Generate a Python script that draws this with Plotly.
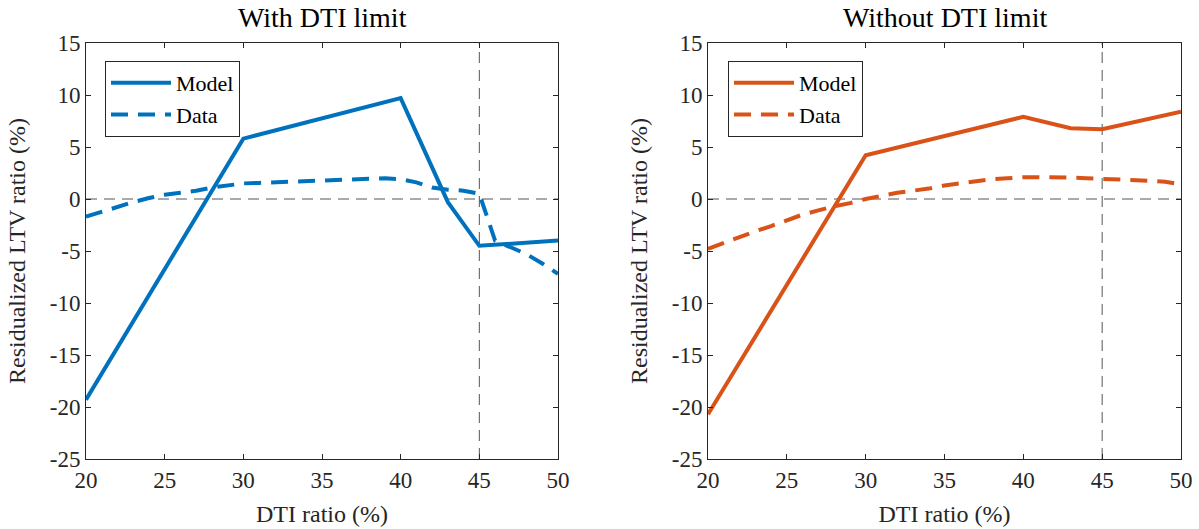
import plotly.graph_objects as go

# ---- data ----
model_x = [20, 30, 40, 43, 45, 50]
model_with = [-19.3, 5.8, 9.7, -0.3, -4.5, -4.0]
model_without = [-20.7, 4.2, 7.9, 6.8, 6.7, 8.4]

data_x = list(range(20, 51))
data_with = [-1.7, -1.2, -0.8, -0.3, 0.1, 0.4, 0.6, 0.8, 1.1, 1.3, 1.5,
             1.55, 1.6, 1.7, 1.75, 1.8, 1.85, 1.9, 1.95, 2.0, 1.9,
             1.6, 1.1, 0.9, 0.8, 0.5, -4.0, -4.6, -5.3, -6.2, -7.2]
data_without = [-4.8, -4.2, -3.6, -3.1, -2.6, -2.0, -1.5, -1.1, -0.7, -0.4, 0.0,
                0.3, 0.6, 0.8, 1.0, 1.3, 1.5, 1.7, 1.9, 2.0, 2.1,
                2.1, 2.1, 2.05, 2.0, 1.95, 1.9, 1.85, 1.75, 1.65, 1.4]

titles = ["With DTI limit", "Without DTI limit"]
colors = ["#0072BD", "#D95319"]
x_ticks = [20, 25, 30, 35, 40, 45, 50]
y_ticks = [-25, -20, -15, -10, -5, 0, 5, 10, 15]
y_ticktext = [str(v) for v in y_ticks]
limit_x = 45

FONT = "Liberation Serif"
TXT = "#262626"
W, H = 1199, 529
ML, MR, MT, MB = 86, 18, 43, 70
PW = W - ML - MR
PH = H - MT - MB
domains_x = [[0, (558 - ML) / PW], [(708 - ML) / PW, 1]]

fig = go.Figure()
series = [(model_with, data_with), (model_without, data_without)]
for i, (m, d) in enumerate(series):
    xa = "x" if i == 0 else "x2"
    ya = "y" if i == 0 else "y2"
    leg = "legend" if i == 0 else "legend2"
    fig.add_trace(go.Scatter(x=model_x, y=m, mode="lines", name="Model",
                             line=dict(color=colors[i], width=4),
                             xaxis=xa, yaxis=ya, legend=leg))
    fig.add_trace(go.Scatter(x=data_x, y=d, mode="lines", name="Data",
                             line=dict(color=colors[i], width=4, dash="17px,10px"),
                             xaxis=xa, yaxis=ya, legend=leg))
    # reference lines
    fig.add_shape(type="line", xref=xa, yref=ya, x0=20, x1=50, y0=0, y1=0,
                  line=dict(color="#555555", width=1, dash="11px,7px"), layer="below")
    fig.add_shape(type="line", xref=xa, yref=ya, x0=limit_x, x1=limit_x, y0=-25, y1=15,
                  line=dict(color="#555555", width=1, dash="11px,7px"), layer="below")

axis_common = dict(showgrid=False, zeroline=False, showline=True, mirror="ticks",
                   linecolor=TXT, linewidth=1, ticks="inside", ticklen=5,
                   tickcolor=TXT, automargin=False,
                   tickfont=dict(family=FONT, size=23, color=TXT))

for i in range(2):
    sfx = "" if i == 0 else "2"
    fig.update_layout(**{
        f"xaxis{sfx}": dict(domain=domains_x[i], range=[20, 50], tickvals=x_ticks,
                            anchor=f"y{sfx}",
                            title=dict(text="DTI ratio (%)",
                                       font=dict(family=FONT, size=24, color=TXT),
                                       standoff=13),
                            **axis_common),
        f"yaxis{sfx}": dict(domain=[0, 1], range=[-25, 15], tickvals=y_ticks,
                            ticktext=y_ticktext, anchor=f"x{sfx}",
                            title=dict(text="Residualized LTV ratio (%)",
                                       font=dict(family=FONT, size=24, color=TXT),
                                       standoff=17),
                            **axis_common),
    })
    fig.add_annotation(text=titles[i], xref="paper", yref="paper",
                       x=sum(domains_x[i]) / 2, y=1 + (MT - 17) / PH,
                       showarrow=False, xanchor="center", yanchor="middle",
                       font=dict(family=FONT, size=28, color="black"))

legend_common = dict(bgcolor="white", bordercolor=TXT, borderwidth=1,
                     font=dict(family=FONT, size=22, color="black"),
                     xanchor="left", yanchor="top", tracegroupgap=0, itemwidth=60)
fig.update_layout(
    legend=dict(x=(105 - ML) / PW, y=1 - (61 - MT) / PH, **legend_common),
    legend2=dict(x=(728 - ML) / PW, y=1 - (61 - MT) / PH, **legend_common),
    width=W, height=H, margin=dict(l=ML, r=MR, t=MT, b=MB, autoexpand=False),
    paper_bgcolor="white", plot_bgcolor="white", showlegend=True,
)

fig.write_html("out.html", config={"displayModeBar": False},
               post_script="document.body.style.margin='0';document.body.style.padding='0';")
